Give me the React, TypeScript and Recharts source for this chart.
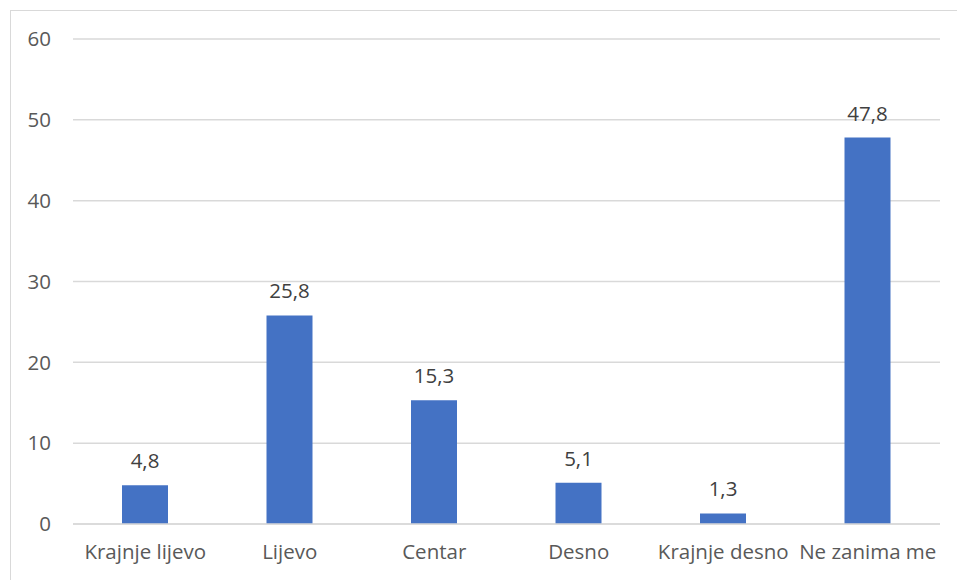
import { BarChart, Bar, XAxis, YAxis, CartesianGrid, LabelList } from 'recharts'

const categories = ['Krajnje lijevo', 'Lijevo', 'Centar', 'Desno', 'Krajnje desno', 'Ne zanima me']
const values = [4.8, 25.8, 15.3, 5.1, 1.3, 47.8]
const yTicks = [0, 10, 20, 30, 40, 50, 60]

const data = categories.map((name, i) => ({ name, value: values[i] }))

const font = '"Open Sans", "Noto Sans", sans-serif'
const textColor = '#595959'

export default function App() {
  return (
    <div style={{ position: 'absolute', left: 0, top: 0, width: 957, height: 580, overflow: 'hidden', background: '#fff' }}>
      <div
        style={{
          position: 'absolute',
          left: 10,
          top: 10,
          width: 980,
          height: 600,
          border: '1px solid #d9d9d9',
        }}
      />
      <BarChart
        width={957}
        height={580}
        data={data}
        margin={{ top: 39, right: 17, left: 13, bottom: 0 }}
        style={{ position: 'absolute', left: 0, top: 0, fontFamily: font }}
      >
        <CartesianGrid vertical={false} stroke="#d9d9d9" strokeWidth={1.5} />
        <XAxis
          dataKey="name"
          interval={0}
          axisLine={{ stroke: '#d9d9d9', strokeWidth: 1.5 }}
          tickLine={false}
          tickSize={0}
          tickMargin={20}
          height={56}
          tick={{ fill: textColor, fontSize: 20.5, fontFamily: font }}
        />
        <YAxis
          domain={[0, 60]}
          ticks={yTicks}
          width={60}
          axisLine={false}
          tickLine={false}
          tickSize={0}
          tickMargin={22}
          tick={{ fill: textColor, fontSize: 20.5, fontFamily: font }}
        />
        <Bar dataKey="value" fill="#4472C4" barSize={46} isAnimationActive={false}>
          <LabelList
            dataKey="value"
            position="top"
            offset={17}
            formatter={(v: number) => String(v).replace('.', ',')}
            style={{ fill: '#404040', fontSize: 20.5, fontFamily: font }}
          />
        </Bar>
      </BarChart>
    </div>
  )
}
